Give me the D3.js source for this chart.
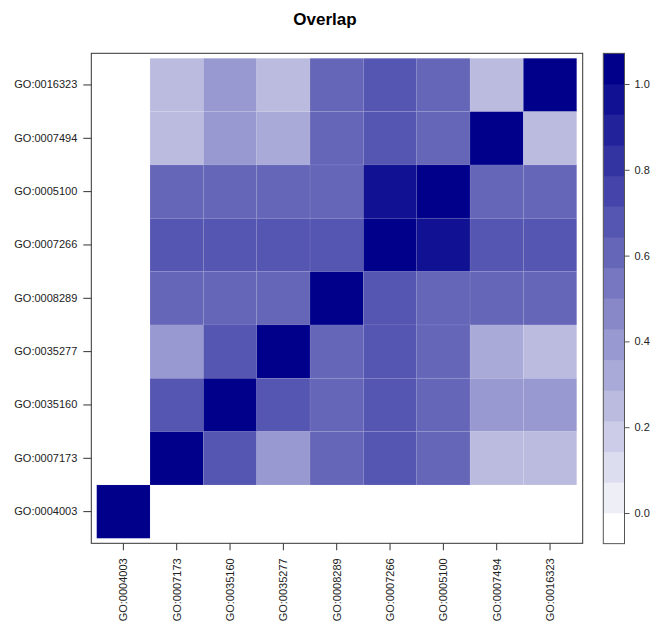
<!DOCTYPE html>
<html>
<head>
<meta charset="utf-8">
<script src="https://cdn.jsdelivr.net/npm/d3@7"></script>
<style>
  body { margin: 0; background: #fff; }
  text { font-family: "Liberation Sans", Arial, sans-serif; }
</style>
</head>
<body>
<div id="heat"></div>
<script>
// row labels, top to bottom
let rows = ["GO:0016323", "GO:0007494", "GO:0005100", "GO:0007266", "GO:0008289",
            "GO:0035277", "GO:0035160", "GO:0007173", "GO:0004003"];
// column labels, left to right
let cols = ["GO:0004003", "GO:0007173", "GO:0035160", "GO:0035277", "GO:0008289",
            "GO:0007266", "GO:0005100", "GO:0007494", "GO:0016323"];
// overlap values (null = empty cell)
let overlap = [
    [null, 0.25, 0.40, 0.25, 0.60, 0.67, 0.60, 0.25, 1.00],
    [null, 0.25, 0.40, 0.33, 0.60, 0.67, 0.60, 1.00, 0.25],
    [null, 0.60, 0.60, 0.60, 0.60, 0.95, 1.00, 0.60, 0.60],
    [null, 0.67, 0.67, 0.67, 0.67, 1.00, 0.95, 0.67, 0.67],
    [null, 0.60, 0.60, 0.60, 1.00, 0.67, 0.60, 0.60, 0.60],
    [null, 0.40, 0.67, 1.00, 0.60, 0.67, 0.60, 0.33, 0.25],
    [null, 0.67, 1.00, 0.67, 0.60, 0.67, 0.60, 0.40, 0.40],
    [null, 1.00, 0.67, 0.40, 0.60, 0.67, 0.60, 0.25, 0.25],
    [1.00, null, null, null, null, null, null, null, null]
];
let legendTicks = [0.0, 0.2, 0.4, 0.6, 0.8, 1.0];

let width = 654, height = 623;
let box = {left: 91.3, right: 582.7, top: 53.3, bottom: 543.3};
let grid = {left: 96.7, right: 576.7, top: 58.3, bottom: 538.3};

let svg = d3.select("#heat")
    .append("svg")
    .attr("width", width)
    .attr("height", height);

// colour palette: 16 steps white -> darkblue, breaks every 1/14
let nCol = 16;
let palette = d3.range(nCol).map(function(i) { return d3.interpolateRgb("#ffffff", "#00008b")(i / (nCol - 1)); });
let breaks = d3.range(nCol - 1).map(function(i) { return i / 14; });
let color = d3.scaleThreshold().domain(breaks).range(palette);

let x = d3.scaleBand().domain(cols).range([grid.left, grid.right]);
let y = d3.scaleBand().domain(rows).range([grid.top, grid.bottom]);

// cells
let cells = [];
overlap.forEach(function(r, i) {
    r.forEach(function(v, j) {
        if (v !== null) cells.push({row: rows[i], col: cols[j], value: v});
    });
});

svg.append("g")
    .selectAll("rect")
    .data(cells)
    .enter()
    .append("rect")
    .attr("x", function(d) { return x(d.col); })
    .attr("y", function(d) { return y(d.row); })
    .attr("width", x.bandwidth())
    .attr("height", y.bandwidth())
    .attr("fill", function(d) { return color(d.value); })
    .attr("stroke", "#ffffff")
    .attr("stroke-opacity", 0.08)
    .attr("stroke-width", 0.8);

// box around plot
svg.append("rect")
    .attr("x", box.left)
    .attr("y", box.top)
    .attr("width", box.right - box.left)
    .attr("height", box.bottom - box.top)
    .attr("fill", "none")
    .attr("stroke", "#333")
    .attr("stroke-width", 1);

// axes
let xAxis = svg.append("g")
    .attr("transform", "translate(0," + box.bottom + ")")
    .call(d3.axisBottom(x).tickSize(7).tickPadding(6));
xAxis.select(".domain").remove();
xAxis.selectAll("line").attr("stroke", "#333");
xAxis.selectAll("text")
    .attr("transform", "rotate(-90)")
    .attr("x", -15)
    .attr("y", 0)
    .attr("dy", "0.35em")
    .style("text-anchor", "end")
    .style("font-size", "11px")
    .attr("fill", "#222");

let yAxis = svg.append("g")
    .attr("transform", "translate(" + box.left + ",0)")
    .call(d3.axisLeft(y).tickSize(8).tickPadding(6));
yAxis.select(".domain").remove();
yAxis.selectAll("line").attr("stroke", "#333");
yAxis.selectAll("text")
    .style("font-size", "11px")
    .attr("fill", "#222");

// title
svg.append("text")
    .attr("x", 325)
    .attr("y", 24.5)
    .attr("text-anchor", "middle")
    .style("font-size", "17px")
    .style("font-weight", "bold")
    .text("Overlap");

// colour legend
let leg = {left: 603.3, right: 624.5};
let ly = d3.scaleLinear().domain([0, 1]).range([513, 84]);
let legBins = palette.map(function(c, i) { return {lo: (i - 1) / 14, hi: i / 14, fill: c}; });

svg.append("g")
    .selectAll("rect")
    .data(legBins)
    .enter()
    .append("rect")
    .attr("x", leg.left)
    .attr("width", leg.right - leg.left)
    .attr("y", function(d) { return ly(d.hi) - 0.3; })
    .attr("height", function(d) { return ly(d.lo) - ly(d.hi) + 0.6; })
    .attr("fill", function(d) { return d.fill; });

svg.append("rect")
    .attr("x", leg.left)
    .attr("y", ly(15 / 14))
    .attr("width", leg.right - leg.left)
    .attr("height", ly(-1 / 14) - ly(15 / 14))
    .attr("fill", "none")
    .attr("stroke", "#555")
    .attr("stroke-width", 1);

let legAxis = svg.append("g")
    .attr("transform", "translate(" + leg.right + ",0)")
    .call(d3.axisRight(ly).tickValues(legendTicks).tickFormat(d3.format(".1f")).tickSize(5).tickPadding(5));
legAxis.select(".domain").remove();
legAxis.selectAll("line").attr("stroke", "#555");
legAxis.selectAll("text")
    .style("font-size", "11px")
    .attr("fill", "#222");
</script>
</body>
</html>
